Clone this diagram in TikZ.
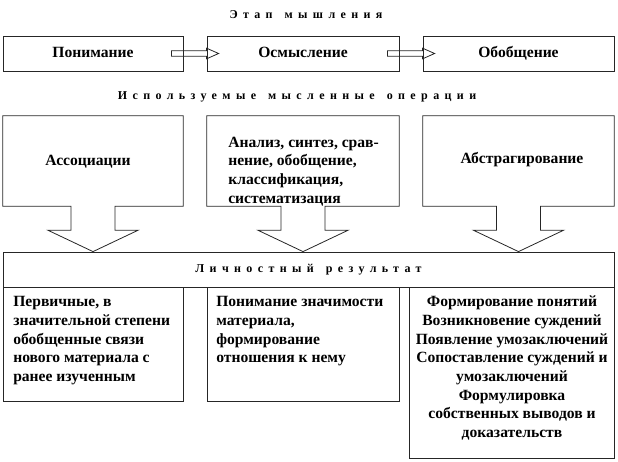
\documentclass[tikz,border=0pt]{standalone}
\usepackage{fontspec}
\setmainfont{Liberation Serif}
\usetikzlibrary{calc}

\newcommand\razr[1]{{\addfontfeatures{LetterSpace=45}#1}}

\begin{document}
\begin{tikzpicture}[x=0.75pt,y=-0.75pt,
	box/.style={draw=black!85, line width=0.6pt, inner sep=0pt},
	txt/.style={font=\fontsize{11.7}{14}\selectfont\bfseries, inner sep=0pt},
	ttl/.style={font=\fontsize{9}{11}\selectfont\bfseries, inner sep=0pt}]
	\useasboundingbox (0,0) rectangle (618,461);

	\node[ttl] (T1) at (306,15) {\razr{Этап}\quad\razr{мышления}};

	\node[box,txt,minimum width=135pt,minimum height=26.25pt,text height=8pt,text depth=2pt] (S1) at (93,53.5) {Понимание};
	\node[box,txt,minimum width=144pt,minimum height=26.25pt,text height=8pt,text depth=2pt] (S2) at (303,53.5) {Осмысление};
	\node[box,txt,minimum width=143.25pt,minimum height=26.25pt,text height=8pt,text depth=2pt] (S3) at (518.5,53.5) {Обобщение};

	\node[ttl] (T2) at (297,97) {\razr{Используемые}\quad\razr{мысленные}\quad\razr{операции}};

	% row of operations, outlines drawn below
	\node[minimum width=135pt,minimum height=67.5pt] (O1) at (93,161) {};
	\node[minimum width=144pt,minimum height=67.5pt] (O2) at (303,161) {};
	\node[minimum width=143.25pt,minimum height=67.5pt] (O3) at (518.5,161) {};

	\node[txt] (o1) at (88,162) {Ассоциации};
	\node[txt,align=left,anchor=base west] (o2) at (228,203) {Анализ, синтез, срав-\\нение, обобщение,\\классификация,\\систематизация};
	\node[txt] (o3) at (522,160) {Абстрагирование};

	\node[box,ttl,minimum width=458.25pt,minimum height=26.25pt] (R) at (308.5,269.5) {\razr{Личностный}\quad\razr{результат}};

	\node[box,minimum width=135pt,minimum height=85.5pt] (R1) at (93,344) {};
	\node[box,minimum width=144pt,minimum height=85.5pt] (R2) at (303,344) {};
	\node[box,minimum width=153.75pt,minimum height=128.25pt] (R3) at (511.5,372.5) {};

	% texts under the result, anchored at their last baseline
	\node[txt,align=left,anchor=base west] (r1) at (13,381.5) {Первичные, в\\значительной степени\\обобщенные связи\\нового материала с\\ранее изученным};
	\node[txt,align=left,anchor=base west] (r2) at (216,362.8) {Понимание значимости\\материала,\\формирование\\отношения к нему};
	\node[txt,align=center,anchor=base] (r3) at (512,437.5) {Формирование понятий\\Возникновение суждений\\Появление умозаключений\\Сопоставление суждений и\\умозаключений\\Формулировка\\собственных выводов и\\доказательств};

	% block arrows between stages
	\foreach \a/\b in {S1/S2, S2/S3}
	\draw[line width=0.6pt,draw=black!85] ($(\a.east)+(-12,-2.7)$) -- ($(\b.west)+(0,-2.7)$) -- ($(\b.west)+(0,-5.3)$)
		-- ($(\b.west)+(12,0)$) -- ($(\b.west)+(0,5.3)$) -- ($(\b.west)+(0,2.7)$) -- ($(\a.east)+(-12,2.7)$) -- cycle;

	% boxes with arrows down to the result
	\foreach \o in {O1, O2, O3}
	\draw[line width=0.6pt,draw=black!85] ($(\o.south)+(-22,0)$) -- (\o.south west) -- (\o.north west) -- (\o.north east)
		-- (\o.south east) -- ($(\o.south)+(22,0)$) -- ++(0,24) -- ++(23,0) -- (\o.south |- R.north)
		-- ($(\o.south)+(-45,24)$) -- ++(23,0) -- cycle;
\end{tikzpicture}
\end{document}
